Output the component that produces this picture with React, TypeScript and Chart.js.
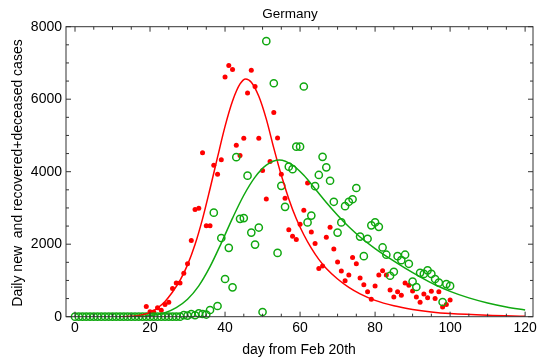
import React, { useEffect, useRef } from "react";
import { Chart, registerables } from "chart.js";

Chart.register(...registerables);

// Daily new cases, days 19..100 after Feb 20th
const newStartDay = 19;
const newCases = [
  280, 140, 130, 250, 180, 340, 400, 780, 930, 930,
  1200, 1460, 2100, 2960, 2990, 4520, 2510, 2510, 4180, 3930,
  4330, 6610, 6930, 6820, 4730, 4450, 4920, 6170, 6800, 6350,
  4920, 4030, 3250, 4280, 5630, 4930, 3930, 3270, 2400, 2220,
  2130, 2550, 2940, 3690, 2340, 2020, 1330, 1400, 2190, 2470,
  1870, 1510, 1260, 990, 1150, 1630, 1460, 1070, 880, 690,
  480, 850, 1150, 1270, 1150, 740, 545, 690, 590, 930,
  865, 710, 545, 400, 625, 525, 700, 500, 690, 270,
  340, 460,
];

// Daily recovered + deceased, days 0..100 (day 52 not reported)
const recStartDay = 0;
const recoveredDeceased: (number | null)[] = [
  0, 0, 0, 0, 0, 0, 0, 0, 0, 0,
  0, 0, 0, 0, 0, 0, 0, 0, 0, 0,
  0, 0, 0, 0, 0, 0, 0, 0, 0, 45,
  30, 75, 40, 90, 75, 60, 185, 2870, 295, 2170,
  1040, 1900, 810, 4400, 2700, 2720, 3890, 2320, 1990, 2460,
  130, 7600, null, 6440, 1760, 3610, 3030, 4140, 4070, 4690,
  4690, 6350, 2600, 2790, 3600, 3910, 4410, 4120, 3750, 3170,
  2320, 2600, 3050, 3170, 3240, 3550, 2210, 1670, 2150, 2520,
  2600, 2480, 1910, 1710, 1130, 1240, 1670, 1560, 1710, 1460,
  970, 820, 1210, 1180, 1280, 1180, 1040, 940, 405, 900,
  850,
];

// Fitted curve for new cases
const newFitDays = [
  12, 14, 16, 18, 20, 22, 24, 26, 28, 30, 32, 34, 36, 38, 40, 42, 44, 45.5,
  47, 49, 51, 53, 55, 57, 59, 61, 63, 65, 67, 70, 73, 76, 80, 85, 90, 95,
  100, 110, 120,
];
const newFitValues = [
  0, 5, 20, 55, 120, 240, 420, 680, 1000, 1430, 1990, 2700, 3530, 4400,
  5250, 5950, 6420, 6560, 6470, 6080, 5450, 4650, 3900, 3250, 2700, 2260,
  1890, 1580, 1330, 1040, 810, 630, 450, 300, 200, 130, 85, 38, 15,
];

// Fitted curve for recovered + deceased
const recFitDays = [
  15, 18, 21, 24, 27, 30, 33, 36, 39, 42, 45, 48, 51, 54.5, 58, 61, 64, 67,
  70, 73, 76, 80, 84, 88, 92, 96, 100, 105, 110, 115, 120,
];
const recFitValues = [
  0, 10, 40, 110, 250, 480, 850, 1380, 2030, 2720, 3350, 3850, 4180, 4320,
  4180, 3900, 3530, 3150, 2800, 2480, 2200, 1880, 1600, 1340, 1100, 880,
  700, 520, 380, 270, 185,
];

const xTickValues = [0, 20, 40, 60, 80, 100, 120];
const yTickValues = [0, 2000, 4000, 6000, 8000];

const chartTitle = "Germany";
const xAxisTitle = "day from Feb 20th";
const yAxisTitle = "Daily new  and recovered+deceased cases";

const RED = "rgb(255,0,0)";
const GREEN = "rgb(16,168,16)";
const FONT = "'Liberation Sans', Arial, Helvetica, sans-serif";

// Frame with inward ticks on all four sides, plus title and axis titles
const framePlugin = {
  id: "frameAndLabels",
  afterDatasetsDraw(chart: any) {
    const { ctx, chartArea: a, scales } = chart;
    const xs = scales.x;
    const ys = scales.y;
    ctx.save();
    ctx.strokeStyle = "#333";
    ctx.lineWidth = 1;
    ctx.strokeRect(a.left, a.top, a.right - a.left, a.bottom - a.top);

    ctx.beginPath();
    for (let v = 0; v <= 120; v += 5) {
      const px = xs.getPixelForValue(v);
      const len = v % 20 === 0 ? 5 : 3;
      ctx.moveTo(px, a.bottom);
      ctx.lineTo(px, a.bottom - len);
      ctx.moveTo(px, a.top);
      ctx.lineTo(px, a.top + len);
    }
    for (let v = 0; v <= 8000; v += 500) {
      const py = ys.getPixelForValue(v);
      const len = v % 2000 === 0 ? 5 : 3;
      ctx.moveTo(a.left, py);
      ctx.lineTo(a.left + len, py);
      ctx.moveTo(a.right, py);
      ctx.lineTo(a.right - len, py);
    }
    ctx.stroke();

    ctx.fillStyle = "#000";
    ctx.textAlign = "center";
    ctx.textBaseline = "middle";
    ctx.font = `13.5px ${FONT}`;
    ctx.fillText(chartTitle, 290, 14);

    ctx.font = `14px ${FONT}`;
    ctx.fillText(xAxisTitle, 299, 350);

    ctx.translate(18, 173);
    ctx.rotate(-Math.PI / 2);
    ctx.fillText(yAxisTitle, 0, 0);
    ctx.restore();
  },
};

export default function App() {
  const canvasRef = useRef<HTMLCanvasElement | null>(null);

  useEffect(() => {
    const canvas = canvasRef.current;
    if (!canvas) return;

    const newPoints = newCases.map((v, i) => ({ x: newStartDay + i, y: v }));
    const recPoints = recoveredDeceased.map((v, i) => ({ x: recStartDay + i, y: v }));
    const newFit = newFitDays.map((d, i) => ({ x: d, y: newFitValues[i] }));
    const recFit = recFitDays.map((d, i) => ({ x: d, y: recFitValues[i] }));

    const chart = new Chart(canvas, {
      type: "scatter",
      data: {
        datasets: [
          {
            label: "recovered+deceased fit",
            data: recFit,
            showLine: true,
            borderColor: GREEN,
            borderWidth: 1.5,
            pointRadius: 0,
            cubicInterpolationMode: "monotone",
            order: 0,
          } as any,
          {
            label: "new fit",
            data: newFit,
            showLine: true,
            borderColor: RED,
            borderWidth: 1.5,
            pointRadius: 0,
            cubicInterpolationMode: "monotone",
            order: 1,
          } as any,
          {
            label: "recovered+deceased",
            data: recPoints,
            pointRadius: 3.6,
            pointStyle: "circle",
            backgroundColor: "rgba(0,0,0,0)",
            borderColor: GREEN,
            borderWidth: 1.5,
            clip: 6,
            order: 2,
          } as any,
          {
            label: "daily new",
            data: newPoints,
            pointRadius: 2.5,
            backgroundColor: RED,
            borderColor: RED,
            borderWidth: 0,
            clip: 6,
            order: 3,
          } as any,
        ],
      },
      options: {
        animation: false,
        responsive: false,
        maintainAspectRatio: false,
        devicePixelRatio: 1,
        layout: { padding: { top: 26.7, right: 7, left: 0, bottom: 0 } },
        plugins: {
          legend: { display: false },
          tooltip: { enabled: false },
          title: { display: false },
        },
        scales: {
          x: {
            type: "linear",
            min: -2.4,
            max: 122.1,
            afterBuildTicks: (scale: any) => {
              scale.ticks = xTickValues.map((v) => ({ value: v }));
            },
            afterFit: (scale: any) => {
              scale.height = 360 - 316.7 - 0;
            },
            grid: { display: false, drawTicks: false },
            border: { display: false },
            ticks: {
              color: "#000",
              font: { size: 14, family: FONT },
              padding: 3,
              maxRotation: 0,
              autoSkip: false,
              callback: (v: any) => String(v),
            },
          },
          y: {
            type: "linear",
            min: 0,
            max: 8000,
            afterBuildTicks: (scale: any) => {
              scale.ticks = yTickValues.map((v) => ({ value: v }));
            },
            afterFit: (scale: any) => {
              scale.width = 66;
            },
            grid: { display: false, drawTicks: false },
            border: { display: false },
            ticks: {
              color: "#000",
              font: { size: 14, family: FONT },
              padding: 4,
              autoSkip: false,
              callback: (v: any) => String(v),
            },
          },
        },
      },
      plugins: [framePlugin],
    });

    return () => chart.destroy();
  }, []);

  return (
    <div style={{ position: "absolute", left: 0, top: 0, width: 540, height: 360, background: "#fff" }}>
      <canvas ref={canvasRef} width={540} height={360} style={{ display: "block" }} />
    </div>
  );
}
